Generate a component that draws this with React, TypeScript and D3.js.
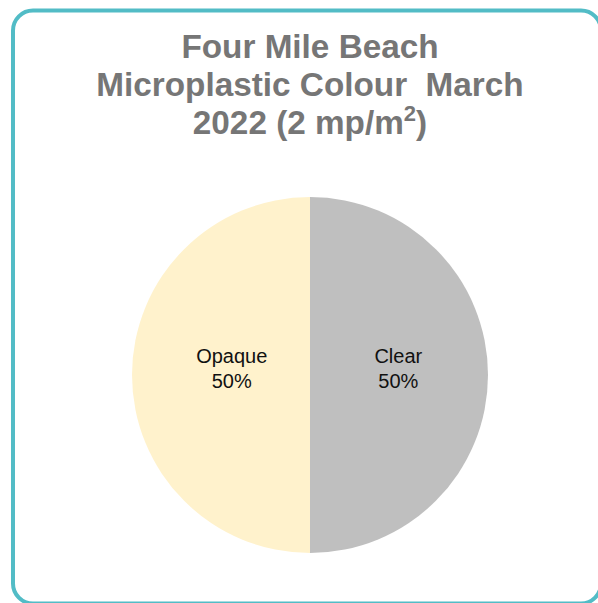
import React from "react";
import * as d3 from "d3";

const categories = ["Clear", "Opaque"];
const shares = [50, 50];
const sliceColors = ["#BFBFBF", "#FFF2CC"];
const titleLines = ["Four Mile Beach", "Microplastic Colour  March", "2022 (2 mp/m"];

const W = 598;
const H = 603;
const cx = 310;
const cy = 375;
const radius = 178;

export default function App() {
  const data = categories.map((c, i) => ({ name: c, value: shares[i] }));
  const pie = d3.pie<any>().value((d) => d.value).sort(null);
  const arcs = pie(data);
  const arcGen = d3.arc<any>().innerRadius(0).outerRadius(radius);
  const labelArc = d3.arc<any>().innerRadius(radius * 0.9).outerRadius(radius * 0.9);
  const total = d3.sum(shares);

  return (
    <svg
      width={W}
      height={H}
      style={{ position: "absolute", left: 0, top: 0, background: "#fff" }}
      fontFamily="'Liberation Sans', Arial, sans-serif"
    >
      <rect x={13} y={10.5} width={588} height={593} rx={20} ry={20} fill="#fff" stroke="#52BCC6" strokeWidth={4} />
      <g fill="#767676" fontWeight="bold" fontSize={33.3} textAnchor="middle">
        <text x={310} y={58}>{titleLines[0]}</text>
        <text x={310} y={96} style={{ whiteSpace: "pre" }}>{titleLines[1]}</text>
        <text x={310} y={134}>
          {titleLines[2]}
          <tspan fontSize={22} dy={-13}>2</tspan>
          <tspan dy={13}>)</tspan>
        </text>
      </g>
      <g transform={`translate(${cx},${cy})`}>
        {arcs.map((a, i) => (
          <path key={i} d={arcGen(a) || ""} fill={sliceColors[i]} />
        ))}
        {arcs.map((a, i) => {
          const [lx] = labelArc.centroid(a);
          const x = lx * 0.52 + 5;
          return (
            <text key={"l" + i} textAnchor="middle" fontSize={20} fill="#111">
              <tspan x={x} y={-12}>{a.data.name}</tspan>
              <tspan x={x} y={13}>{Math.round((a.data.value / total) * 100)}%</tspan>
            </text>
          );
        })}
      </g>
    </svg>
  );
}
